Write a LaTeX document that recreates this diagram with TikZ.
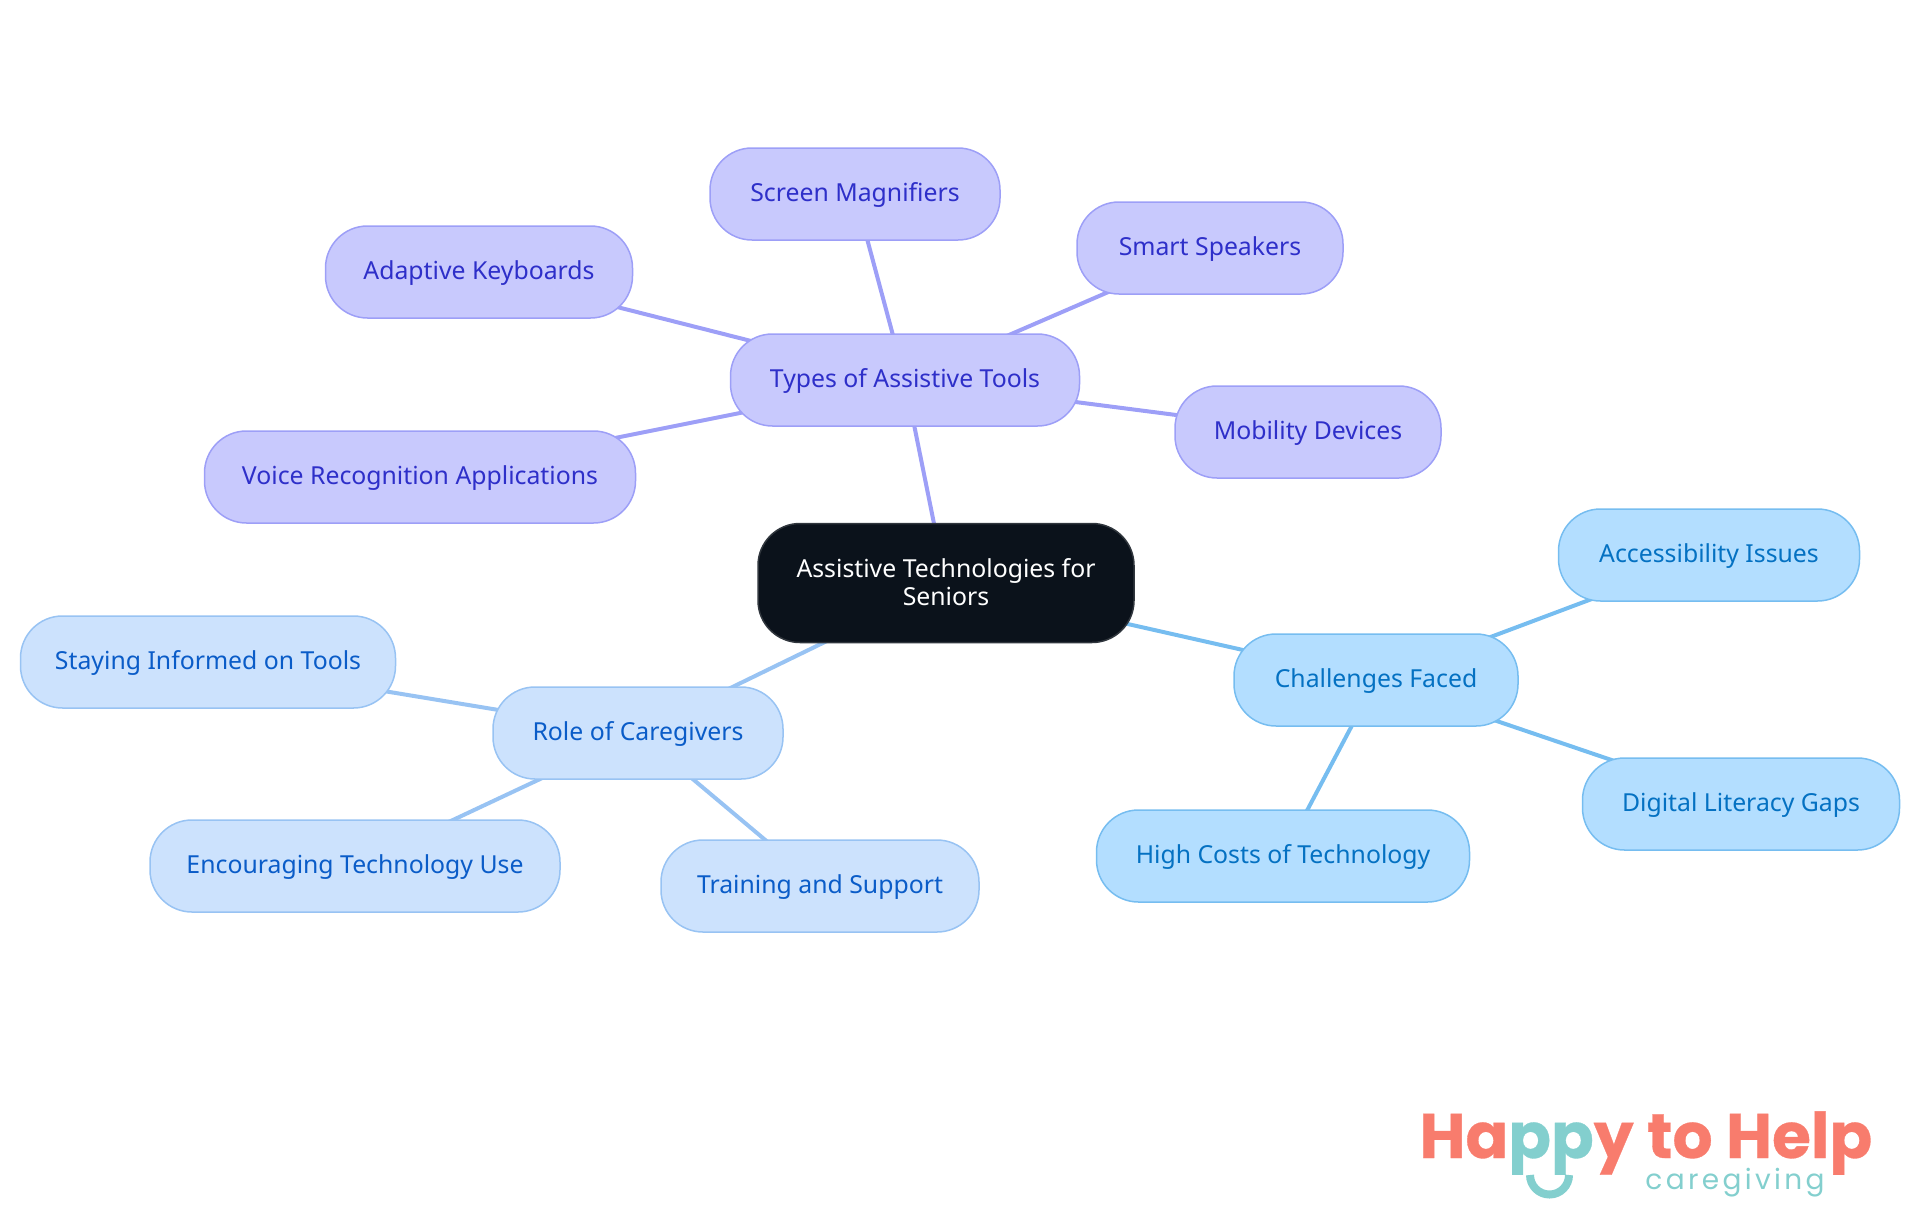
\documentclass[tikz,border=0pt]{standalone}
\usepackage{fontspec}
\setmainfont{Noto Sans}
\newfontfamily\logofont[FakeBold=0.5]{Poppins}
\newfontfamily\taglinefont[LetterSpace=12]{Poppins}
\usetikzlibrary{backgrounds}
\definecolor{toolfill}{HTML}{C8C9FD}
\definecolor{tooldraw}{HTML}{9D9FF7}
\definecolor{tooltext}{HTML}{2E2FC9}
\definecolor{carefill}{HTML}{CCE2FD}
\definecolor{caredraw}{HTML}{98C3F3}
\definecolor{caretext}{HTML}{0A5CC8}
\definecolor{hardfill}{HTML}{B3DEFF}
\definecolor{harddraw}{HTML}{76BDF0}
\definecolor{hardtext}{HTML}{0471C2}
\definecolor{rootfill}{HTML}{0B121B}
\definecolor{logored}{HTML}{F87C6D}
\definecolor{logoteal}{HTML}{83CFCE}

\begin{document}
\begin{tikzpicture}[
  x=0.5pt,y=-0.5pt,
  pill/.style={draw,rounded corners=21pt,align=center,minimum height=46pt,inner sep=0pt,
               line width=0.75pt,font=\fontsize{12.4}{14}\selectfont},
  tool/.style={pill,text height=10pt,text depth=3pt,fill=toolfill,draw=tooldraw,text=tooltext},
  care/.style={pill,text height=10pt,text depth=3pt,fill=carefill,draw=caredraw,text=caretext},
  hard/.style={pill,text height=10pt,text depth=3pt,fill=hardfill,draw=harddraw,text=hardtext},
  root/.style={pill,text depth=1.2pt,fill=rootfill,draw=rootfill!85!white,text=white},
  toolline/.style={draw=tooldraw,line width=2pt},
  careline/.style={draw=caredraw,line width=2pt},
  hardline/.style={draw=harddraw,line width=2pt}
]
\useasboundingbox (0,0) rectangle (1920,1215);
\node[root,minimum width=188pt,minimum height=59.5pt] (seniors) at (946,583) {Assistive Technologies for\\Seniors};

\node[tool,minimum width=174.5pt] (types) at (905,380) {Types of Assistive Tools};
\node[tool,minimum width=145pt] (magnifiers) at (855,194) {Screen Magnifiers};
\node[tool,minimum width=133pt] (speakers) at (1210,248) {Smart Speakers};
\node[tool,minimum width=153.5pt] (keyboards) at (479,272) {Adaptive Keyboards};
\node[tool,minimum width=215.5pt] (voice) at (420,477) {Voice Recognition Applications};
\node[tool,minimum width=133pt] (mobility) at (1308,432) {Mobility Devices};

\node[hard,minimum width=142pt] (challenges) at (1376,680) {Challenges Faced};
\node[hard,minimum width=150.5pt] (access) at (1709,555) {Accessibility Issues};
\node[hard,minimum width=158.5pt] (literacy) at (1741,804) {Digital Literacy Gaps};
\node[hard,minimum width=186.5pt] (costs) at (1283,856) {High Costs of Technology};

\node[care,minimum width=145pt] (role) at (638,733) {Role of Caregivers};
\node[care,minimum width=187.5pt] (informed) at (208,662) {Staying Informed on Tools};
\node[care,minimum width=205pt] (encourage) at (355,866) {Encouraging Technology Use};
\node[care,minimum width=159pt] (training) at (820,886) {Training and Support};

\begin{pgfonlayer}{background}
\draw[toolline] (seniors.center) -- (types.center);
\draw[toolline] (types.center) -- (magnifiers.center);
\draw[toolline] (types.center) -- (speakers.center);
\draw[toolline] (types.center) -- (keyboards.center);
\draw[toolline] (types.center) -- (voice.center);
\draw[toolline] (types.center) -- (mobility.center);
\draw[hardline] (seniors.center) -- (challenges.center);
\draw[hardline] (challenges.center) -- (access.center);
\draw[hardline] (challenges.center) -- (literacy.center);
\draw[hardline] (challenges.center) -- (costs.center);
\draw[careline] (seniors.center) -- (role.center);
\draw[careline] (role.center) -- (informed.center);
\draw[careline] (role.center) -- (encourage.center);
\draw[careline] (role.center) -- (training.center);
\end{pgfonlayer}

% logo
\node[anchor=base west,inner sep=0pt,text=logored,font=\logofont\bfseries\fontsize{31.5}{32}\selectfont] (happy) at (1419,1158)
  {Ha\textcolor{logoteal}{pp}y to Help};
\node[anchor=base west,inner sep=0pt,text=logoteal,font=\taglinefont\fontsize{14}{16}\selectfont] (tagline) at (1645,1189) {caregiving};
\draw[logoteal,line width=4pt] (1530,1175) arc[start angle=180,end angle=0,radius=19.5];
\end{tikzpicture}
\end{document}
